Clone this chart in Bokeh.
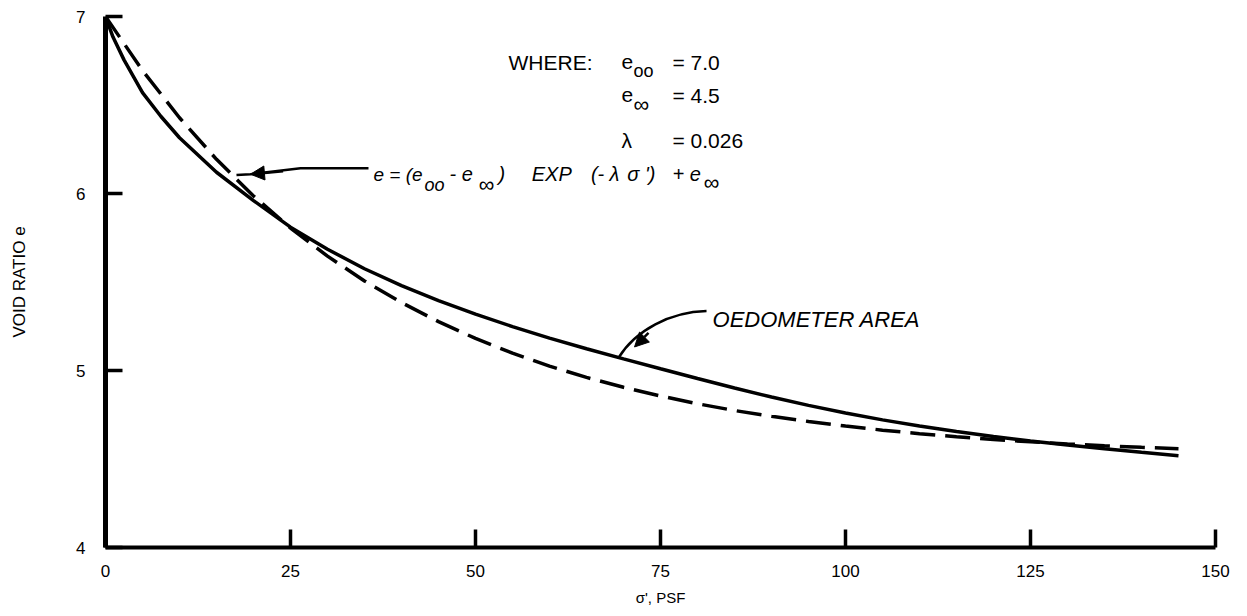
from bokeh.plotting import figure
from bokeh.models import Range1d, FixedTicker, Label, Arrow, NormalHead
from bokeh.embed import file_html
from bokeh.resources import INLINE

# ---- data ----
sigma_oedometer = [0, 1, 2.5, 5, 7.5, 10, 15, 20, 25, 30, 35, 40, 45, 50, 55, 60, 65, 70,
                   75, 80, 85, 90, 95, 100, 105, 110, 115, 120, 125, 130, 135, 140, 145]
e_oedometer = [7.00, 6.885, 6.755, 6.57, 6.435, 6.315, 6.12, 5.96, 5.81, 5.685, 5.575, 5.48,
               5.395, 5.318, 5.248, 5.183, 5.123, 5.066, 5.010, 4.955, 4.901, 4.850, 4.803,
               4.760, 4.721, 4.686, 4.655, 4.627, 4.602, 4.579, 4.558, 4.538, 4.519]

sigma_exp = [0, 5, 10, 15, 20, 25, 30, 35, 40, 45, 50, 55, 60, 65, 70, 75, 80, 85, 90,
             95, 100, 105, 110, 115, 120, 125, 130, 135, 140, 145]
e_exp = [7.000, 6.695, 6.428, 6.193, 5.986, 5.805, 5.646, 5.506, 5.384, 5.276, 5.181,
         5.098, 5.025, 4.961, 4.905, 4.856, 4.812, 4.774, 4.741, 4.712, 4.686, 4.663,
         4.643, 4.626, 4.610, 4.597, 4.585, 4.575, 4.566, 4.558]

x_ticks = [0, 25, 50, 75, 100, 125, 150]
y_ticks = [4, 5, 6, 7]

FONT = "Liberation Sans"

p = figure(width=1239, height=608, x_range=Range1d(0, 150), y_range=Range1d(4, 7),
           output_backend="svg", toolbar_location=None,
           min_border_left=105, min_border_right=24, min_border_top=16, min_border_bottom=60)
p.xgrid.visible = False
p.ygrid.visible = False
p.outline_line_color = None
p.background_fill_color = "white"
p.border_fill_color = "white"

# axes
for ax in (p.xaxis[0], p.yaxis[0]):
    ax.major_tick_out = 0
    ax.minor_tick_in = 0
    ax.minor_tick_out = 0
    ax.major_tick_line_width = 3.5
    ax.major_tick_line_color = "black"
    ax.axis_line_color = "black"
    ax.major_label_text_font = FONT
    ax.major_label_text_font_size = "17px"
    ax.major_label_text_color = "black"
    ax.axis_label_text_font = FONT
    ax.axis_label_text_font_style = "normal"
    ax.axis_label_text_color = "black"

p.xaxis.ticker = FixedTicker(ticks=x_ticks)
p.yaxis.ticker = FixedTicker(ticks=y_ticks)
p.xaxis.axis_line_width = 4
p.yaxis.axis_line_width = 5
p.xaxis.major_tick_in = 18
p.yaxis.major_tick_in = 17
p.xaxis.major_label_standoff = 17
p.yaxis.major_label_standoff = 20
p.xaxis.axis_label = "σ', PSF"
p.yaxis.axis_label = "VOID RATIO e"
p.xaxis.axis_label_text_font_size = "15px"
p.yaxis.axis_label_text_font_size = "17px"
p.xaxis.axis_label_standoff = 9
p.yaxis.axis_label_standoff = 44

# curves
p.line(sigma_oedometer, e_oedometer, line_color="black", line_width=3.5)
p.line(sigma_exp, e_exp, line_color="black", line_width=3.5, line_dash="25 10")

# ---- annotations ----
def lab(x, y, t, size="20px", style="normal"):
    p.add_layout(Label(x=x, y=y, text=t, text_font=FONT, text_font_size=size,
                       text_font_style=style, text_color="black",
                       text_align="left", text_baseline="alphabetic"))

# WHERE block
lab(54.46, 6.741, "WHERE:", "21px")
lab(69.73, 6.741, "e", "21px")
lab(71.35, 6.690, "oo", "18px")
lab(76.62, 6.741, "= 7.0", "21px")
lab(69.73, 6.554, "e", "21px")
lab(71.35, 6.504, "∞", "22px")
lab(76.62, 6.554, "= 4.5", "21px")
lab(69.73, 6.301, "λ", "21px")
lab(76.62, 6.301, "= 0.026", "21px")

# equation
EQ_Y = 6.109
lab(36.22, EQ_Y, "e = (e", "19px", "italic")
lab(43.11, 6.047, "oo", "18px", "italic")
lab(46.49, EQ_Y, "- e", "20px", "italic")
lab(50.41, 6.053, "∞", "22px", "italic")
lab(53.10, EQ_Y, ")", "20px", "italic")
lab(57.60, EQ_Y, "EXP", "20px", "italic")
lab(65.60, EQ_Y, "(-", "20px", "italic")
lab(68.10, EQ_Y, "λ", "20px", "italic")
lab(70.50, EQ_Y, "σ", "20px", "italic")
lab(72.90, EQ_Y, "')", "20px", "italic")
lab(76.62, EQ_Y, "+ e", "20px", "italic")
lab(80.81, 6.064, "∞", "22px", "italic")

# equation arrow
p.line([35.54, 26.35, 19.59, 17.70], [6.143, 6.143, 6.109, 6.104], line_color="black", line_width=2.5)
p.add_layout(Arrow(x_start=24.0, y_start=6.125, x_end=19.59, y_end=6.109, line_width=2.5,
                   end=NormalHead(size=14, fill_color="black", line_color="black")))

# OEDOMETER AREA label + arrow
lab(82.03, 5.286, "OEDOMETER AREA", "22px", "italic")
p.bezier(x0=[81.22], y0=[5.336], x1=[69.32], y1=[5.071],
         cx0=[76.35], cy0=[5.331], cx1=[71.62], cy1=[5.229],
         line_color="black", line_width=2.5)
p.add_layout(Arrow(x_start=73.38, y_start=5.212, x_end=71.49, y_end=5.133, line_width=2.5,
                   end=NormalHead(size=14, fill_color="black", line_color="black")))

open("out.html", "w").write(file_html(p, INLINE))
